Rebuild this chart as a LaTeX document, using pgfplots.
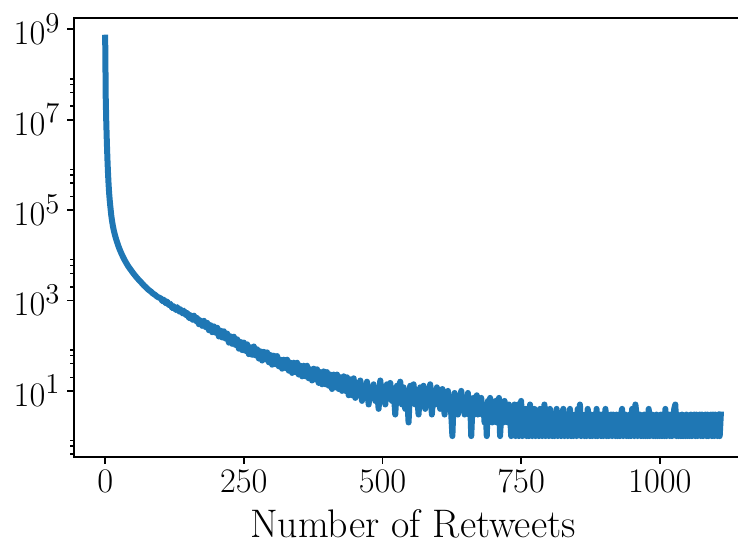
\documentclass[border=0pt]{standalone}
\usepackage{pgfplots}
\pgfplotsset{compat=1.18}
\definecolor{mplblue}{HTML}{1F77B4}

\begin{document}
\begin{tikzpicture}
\begin{axis}[
    name=ax,
    scale only axis,
    width=338.6bp, height=219.2bp,
    ymode=log,
    xmin=-55.5, xmax=1165.5,
    ymin=0.35, ymax=1.75e9,
    xtick={0,250,500,750,1000},
    ytick={10,1000,1e5,1e7,1e9},
    minor ytick={0.2,0.4,0.6,0.8,20,40,60,80,2000,4000,6000,8000,2e5,4e5,6e5,8e5,2e7,4e7,6e7,8e7},
    tick pos=left,
    tick align=outside,
    major tick length=3.5bp,
    minor tick length=2bp,
    every tick/.style={black, line width=0.9bp},
    minor tick style={line width=0.7bp},
    axis line style={line width=1bp},
    /pgf/number format/1000 sep={},
    tick label style={font=\fontsize{19}{22}\selectfont},
    xlabel={Number of Retweets},
    xlabel style={font=\fontsize{20}{24}\selectfont, at={(axis description cs:0.5,0)}, anchor=base, yshift=-40.5bp},
]
% counts per number of retweets
\addplot[mplblue, line width=3bp, line join=round, line cap=rect] coordinates {
(0,6.5e8) (1,3.0e7) (2,8.5e6) (3,3.2e6) (4,1.4e6) (5,7.0e5) (6,4.0e5) (7,2.5e5)
(8,1.75e5) (9,1.3e5) (10,9.9e4) (11,7.6e4) (12,6.2e4) (13,5.18e4) (14,4.4e4)
(15,3.81e4) (16,3.35e4) (18,2.69e4) (20,2.22e4) (22,1.86e4) (24,1.58e4) (26,1.36e4)
(28,1.19e4) (30,1.047e4) (32,9.29e3) (34,8.3e3) (36,7.47e3) (38,6.76e3) (40,6.15e3)
(42,5.6e3) (46,4.8e3) (50,4.1e3) (54,3.55e3) (58,3.1e3) (62,2.74e3) (66,2.43e3)
(70,2.14e3) (74,1.94e3) (78,1.73e3) (82,1.59e3) (86,1.43e3) (90,1.33e3) (94,1.21e3)
(98,1.14e3)
(100,1140) (103,975) (106,1033) (109,871) (112,942) (115,791) (118,834) (121,682)
(124,741) (127,619) (130,714) (133,571) (136,638) (139,519) (142,594) (145,479)
(148,530) (151,410) (154,474) (157,373) (160,461) (163,350) (166,413) (169,299)
(172,363) (175,275) (178,355) (181,259) (184,319) (187,220) (190,284) (193,199)
(196,267) (199,194)
(202,249) (205,160) (208,215) (211,152) (214,208) (217,144) (220,185) (223,117)
(226,161) (229,110) (232,158) (235,104) (238,138) (241,86) (244,121) (247,80)
(250,117) (253,77) (256,107) (259,65) (262,92) (265,63) (268,96) (271,61)
(274,83) (277,52) (280,75) (283,47) (286,73) (289,50) (292,71) (295,43) (298,62)
(301,38) (304,60) (307,39) (310,59) (313,35) (316,49) (319,31) (322,49)
(325,32) (328,49) (331,28) (334,42) (337,25) (340,42) (343,26) (346,42)
(349,23) (352,36) (355,21) (358,36) (361,21) (364,36) (367,19) (370,30)
(373,17) (376,31) (379,18) (382,30) (385,15) (388,26) (391,14) (394,27)
(397,14) (400,26) (403,13) (406,23) (409,11) (412,23) (415,12) (418,23)
(421,11) (424,20) (427,10) (430,21) (433,10) (436,20) (439,8) (442,18)
(445,8) (448,19)
(451,7) (454,15) (457,9) (460,17) (463,6) (466,13) (469,8) (472,16) (475,5)
(478,12) (481,7) (484,14) (487,6) (490,11) (493,4) (496,17) (499,7) (502,12)
(505,5) (508,14) (511,8) (514,15) (517,6) (520,11) (523,3) (526,13) (529,7)
(532,16) (535,5) (538,12) (541,4) (544,10) (547,2) (550,13) (553,6) (556,14)
(559,5) (562,10) (565,3) (568,12) (571,6) (574,13) (577,4) (580,11) (583,6)
(586,14) (589,3) (592,10) (595,5) (598,12)
(600,5) (602,9) (604,4) (606,7) (608,11) (610,5) (612,3) (614,8) (616,6)
(618,10) (620,4) (622,7) (624,3) (626,1) (628,5) (630,9) (632,4) (634,6)
(636,3) (638,8) (640,5) (642,10) (644,4) (646,6) (648,3) (650,7) (652,5)
(654,9) (656,3) (658,6) (660,1) (662,4) (664,7) (666,3) (668,5) (670,8)
(672,3) (674,6) (676,4) (678,7) (680,3) (682,5) (684,2) (686,4) (688,1)
(690,6) (692,3) (694,7) (696,4) (698,2) (700,5) (702,3) (704,6) (706,2)
(708,4) (710,7) (712,1) (714,3) (716,5) (718,2) (720,6) (722,3) (724,4)
(726,2) (728,5) (730,3) (732,1) (734,4) (736,2) (738,5) (740,1) (742,3)
(744,5) (746,1) (748,3) (750,6)
(752,1) (754,3) (756,2) (758,4) (760,1) (762,3) (764,1) (766,5) (768,2)
(770,1) (772,3) (774,4) (776,1) (778,2) (780,3) (782,1) (784,4) (786,2)
(788,1) (790,3) (792,5) (794,1) (796,2) (798,3) (800,1) (802,4) (804,2)
(806,1) (808,3) (810,1) (812,2) (814,4) (816,1) (818,3) (820,2) (822,1)
(824,3) (826,4) (828,1) (830,2) (832,3) (834,1) (836,2) (838,4) (840,1)
(842,3) (844,1) (846,2) (848,3) (850,1) (852,4) (854,2) (856,5) (858,1)
(860,3) (862,2) (864,1) (866,3) (868,1) (870,4) (872,2) (874,1) (876,3)
(878,1) (880,2) (882,3) (884,1) (886,4) (888,1) (890,2) (892,3) (894,1)
(896,3) (898,1) (900,2) (902,4) (904,1) (906,3) (908,1) (910,2) (912,3)
(914,1) (916,3) (918,2) (920,1) (922,3) (924,1) (926,2) (928,1) (930,3)
(932,4) (934,1) (936,2) (938,3) (940,1) (942,2) (944,1) (946,3) (948,1)
(950,4) (952,2) (954,1) (956,5) (958,3) (960,1) (962,2) (964,3) (966,1)
(968,2) (970,1) (972,3) (974,1) (976,2) (978,1) (980,4) (982,1) (984,2)
(986,3) (988,1) (990,2) (992,1) (994,3) (996,1) (998,2) (1000,1) (1002,3)
(1004,1) (1006,2) (1008,1) (1010,4) (1012,1) (1014,2) (1016,3) (1018,1) (1020,3)
(1022,1) (1024,2) (1026,4) (1028,5) (1030,1) (1032,3) (1034,1) (1036,2) (1038,1)
(1040,3) (1042,1) (1044,2) (1046,1) (1048,3) (1050,1) (1052,2) (1054,1) (1056,3)
(1058,1) (1060,2) (1062,3) (1064,1) (1066,3) (1068,1) (1070,2) (1072,3) (1074,1)
(1076,3) (1078,1) (1080,2) (1082,3) (1084,1) (1086,3) (1088,1) (1090,2) (1092,3)
(1094,1) (1096,3) (1098,1) (1100,3) (1102,2) (1104,1) (1106,3) (1108,1) (1110,3)
};
\end{axis}
\pgfresetboundingbox
\path (ax.south west) ++(-37.2bp,-44.15bp) coordinate (bl);
\useasboundingbox (bl) rectangle ++(369bp,272.5bp);
\end{tikzpicture}
\end{document}
